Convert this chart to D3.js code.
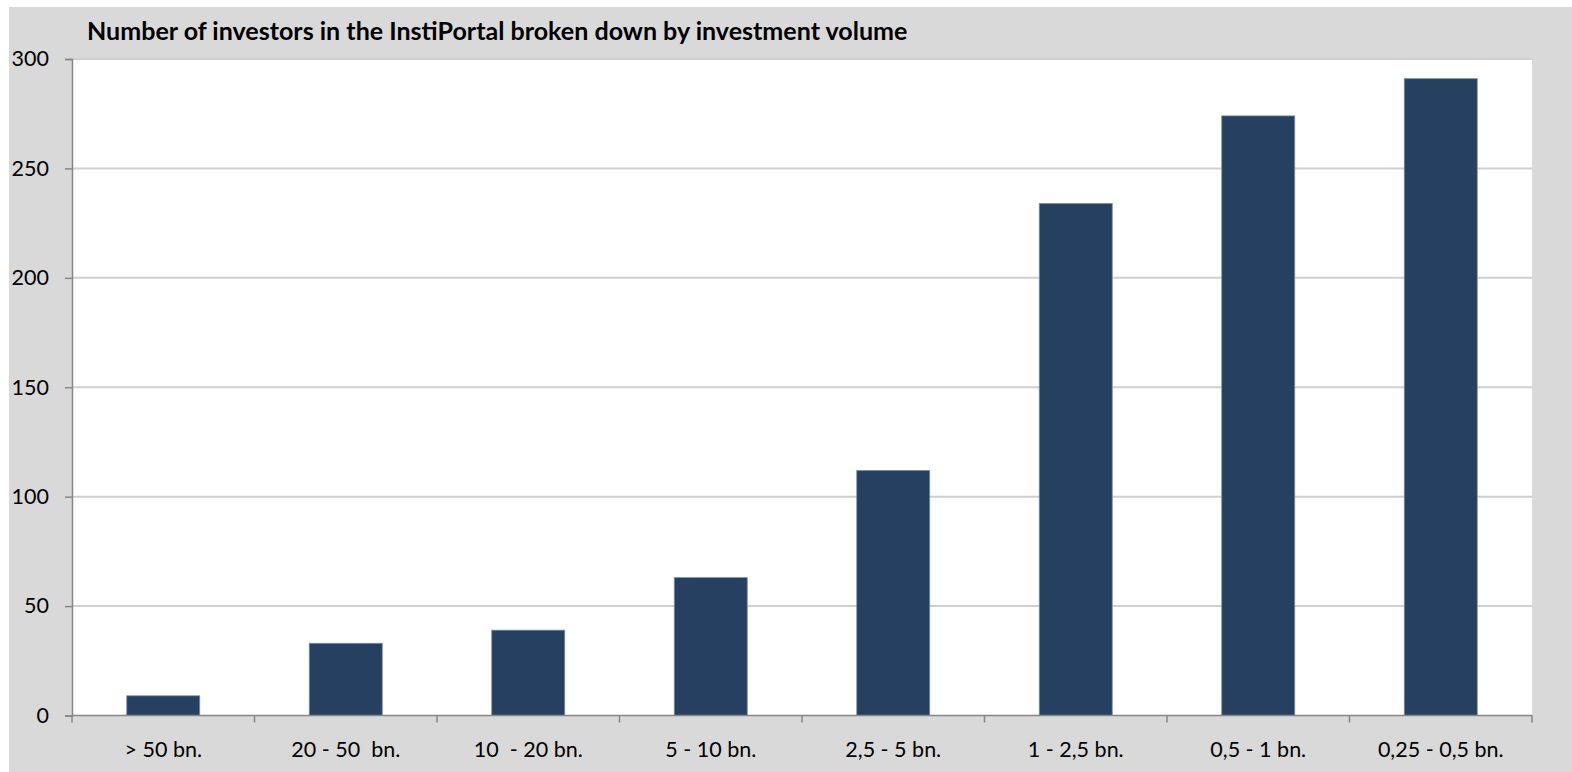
<!DOCTYPE html>
<html>
<head>
<meta charset="utf-8">
<script src="https://cdn.jsdelivr.net/npm/d3@7"></script>
<style>
  html, body { margin: 0; padding: 0; background: #ffffff; }
  svg { display: block; }
  text { font-family: Lato, "Open Sans", sans-serif; fill: #000; }
</style>
</head>
<body>
<svg id="chart" width="1572" height="772"></svg>
<script>
// Investors by investment volume
const categories = ["> 50 bn.", "20 - 50  bn.", "10  - 20 bn.", "5 - 10 bn.", "2,5 - 5 bn.", "1 - 2,5 bn.", "0,5 - 1 bn.", "0,25 - 0,5 bn."];
const investors = [9, 33, 39, 63, 112, 234, 274, 291];
const yTicks = [0, 50, 100, 150, 200, 250, 300];
const titleText = "Number of investors in the InstiPortal broken down by investment volume";

const svg = d3.select("#chart");
const W = 1572, H = 772;
const plot = { left: 72, right: 1532, top: 59, bottom: 715.5 };
const labelSize = 21.5;

// chart background
svg.append("rect").attr("x", 9).attr("y", 7).attr("width", W - 9).attr("height", H - 7).attr("fill", "#d9d9d9");
// plot area
svg.append("rect").attr("x", plot.left).attr("y", plot.top)
  .attr("width", plot.right - plot.left).attr("height", plot.bottom - plot.top).attr("fill", "#ffffff");

const x = d3.scaleBand().domain(categories).range([plot.left, plot.right])
  .paddingInner(0.6).paddingOuter(0.3);
const y = d3.scaleLinear().domain([0, 300]).range([plot.bottom, plot.top]);

// horizontal gridlines
svg.append("g").selectAll("line").data(yTicks.filter(d => d > 0)).join("line")
  .attr("x1", plot.left).attr("x2", plot.right)
  .attr("y1", d => y(d)).attr("y2", d => y(d))
  .attr("stroke", "#d0d0d0").attr("stroke-width", 2);

// bars
svg.append("g").selectAll("rect").data(investors).join("rect")
  .attr("x", (d, i) => x(categories[i]))
  .attr("y", d => y(d))
  .attr("width", x.bandwidth())
  .attr("height", d => y(0) - y(d))
  .attr("fill", "#264061")
  .attr("stroke", "#7d8ea6").attr("stroke-width", 0.8);

// y axis
const yAxis = svg.append("g").attr("transform", `translate(${plot.left},0)`)
  .call(d3.axisLeft(y).tickValues(yTicks).tickSize(7).tickPadding(16).tickFormat(d3.format("d")));
yAxis.select(".domain").attr("stroke", "#868686").attr("stroke-width", 1.5);
yAxis.selectAll(".tick line").attr("stroke", "#868686").attr("stroke-width", 1.5);
yAxis.selectAll(".tick text").attr("font-size", labelSize).attr("font-family", "Lato, 'Open Sans', sans-serif").attr("fill", "#000");

// x axis with ticks on category boundaries
const xg = svg.append("g").attr("transform", `translate(0,${plot.bottom})`);
xg.append("line").attr("x1", plot.left).attr("x2", plot.right)
  .attr("stroke", "#868686").attr("stroke-width", 1.5);
const step = x.step();
const bounds = d3.range(categories.length + 1).map(i => plot.left + i * step);
xg.selectAll("line.tk").data(bounds).join("line").attr("class", "tk")
  .attr("x1", d => d).attr("x2", d => d).attr("y1", 0).attr("y2", 7)
  .attr("stroke", "#868686").attr("stroke-width", 1.5);
xg.selectAll("text").data(categories).join("text")
  .attr("x", d => x(d) + x.bandwidth() / 2).attr("y", 41)
  .attr("text-anchor", "middle").attr("font-size", labelSize)
  .style("white-space", "pre")
  .text(d => d);

// title
const title = svg.append("text").attr("x", 87).attr("y", 40)
  .attr("font-size", 20).attr("font-weight", "bold").text(titleText);
const tw = title.node().getComputedTextLength();
title.attr("font-size", 20 * 821 / tw);
</script>
</body>
</html>
